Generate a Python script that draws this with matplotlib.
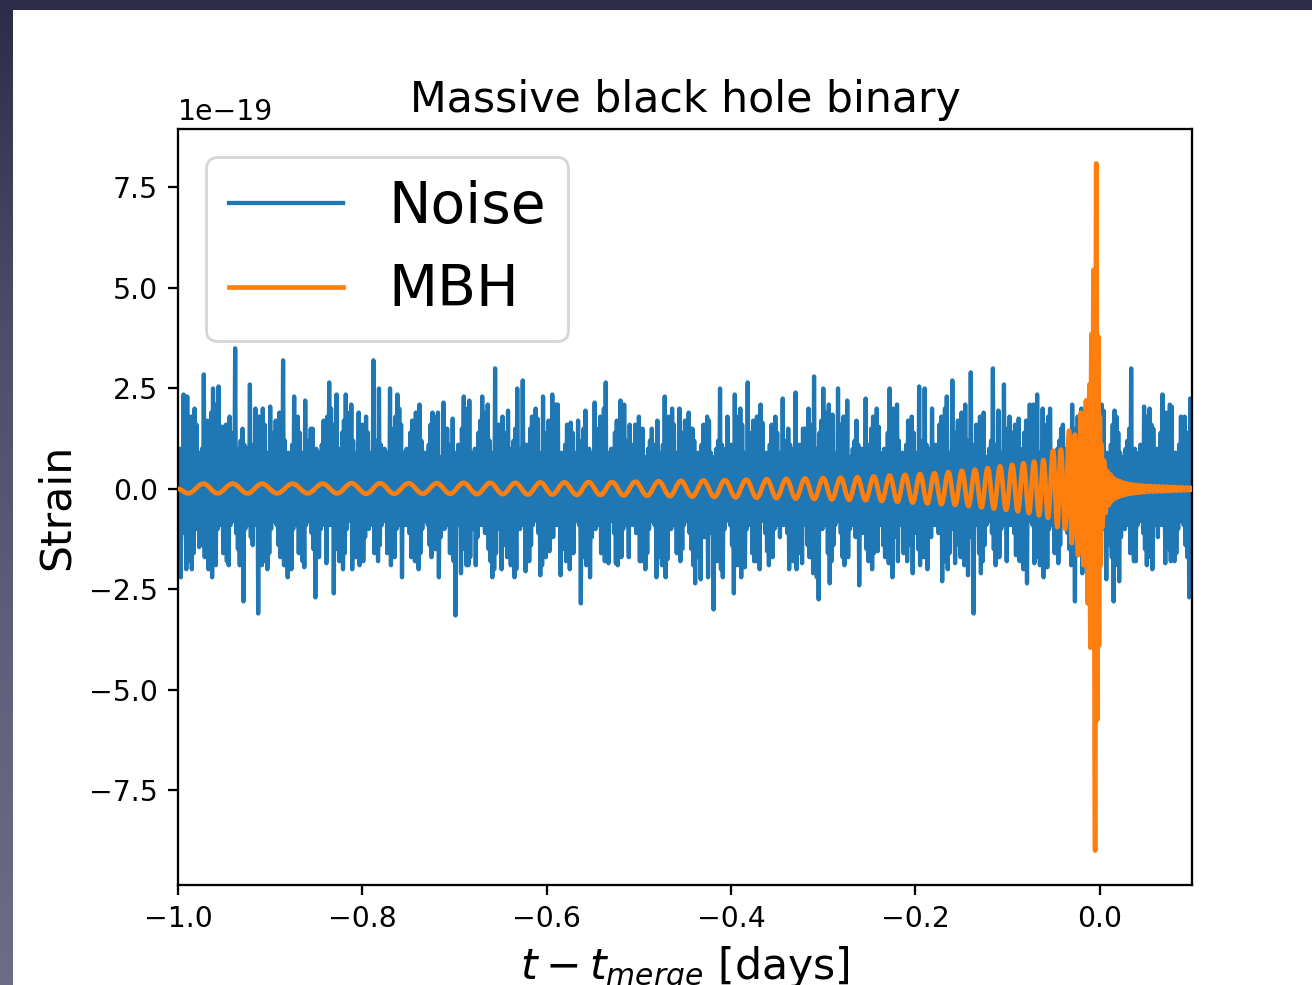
import numpy as np
import matplotlib
matplotlib.use("Agg")
import matplotlib.pyplot as plt
from matplotlib.patches import Rectangle, PathPatch
from matplotlib.path import Path
from matplotlib.lines import Line2D
from matplotlib.colors import LinearSegmentedColormap

# ---------------------------------------------------------------------------
# Data (strain in units of 1e-19, time in days relative to merger)
# ---------------------------------------------------------------------------
chart_title = "Massive black hole binary"
series_labels = ["Noise", "MBH"]
x_label = r"$t - t_{merge}$ [days]"
y_label = "Strain"
time_range = (-1.0, 0.1)
strain_unit = 1e-19

# instrument noise, uniformly sampled over time_range
noise_strain = [
    0.8, -0.9, 1.0, -2.2, 0.7, -1.1, 2.35, -0.8, 1.1, -2.0,
    2.3, -1.8, 1.5, -1.2, 1.8, -2.0, 1.2, -1.6, 2.0, -1.0,
    1.6, -0.8, 0.9, -1.45, 0.7, -0.9, 1.0, -1.4, 2.85, -1.7,
    1.4, -1.1, 1.7, -2.0, 1.1, -1.5, 1.9, -2.2, 2.5, -1.2,
    2.1, -1.9, 1.2, -1.0, 2.55, -0.7, 0.9, -0.9, 1.55, -1.6,
    1.1, -1.2, 1.6, -1.8, 1.2, -1.9, 1.8, -0.9, 1.4, -0.7,
    0.9, -0.8, 3.5, -1.1, 0.8, -1.5, 1.0, -1.9, 1.2, -1.4,
    1.5, -2.8, 1.1, -1.0, 0.8, -0.7, 1.0, -0.9, 2.6, -1.2,
    0.9, -1.4, 1.1, -0.9, 2.0, -0.7, 1.5, -3.1, 1.8, -0.8,
    1.2, -1.9, 2.0, -1.8, 1.6, -1.2, 0.9, -2.0, 0.7, -1.6,
    2.05, -1.0, 0.8, -0.8, 1.4, -0.6, 1.7, -0.9, 1.1, -1.4,
    1.9, -1.7, 1.5, -1.1, 3.2, -1.9, 1.2, -1.5, 0.8, -2.2,
    0.9, -1.2, 0.6, -2.0, 1.1, -1.0, 2.3, -0.7, 1.2, -0.9,
    1.8, -1.6, 1.4, -1.2, 0.9, -1.8, 0.6, -1.95, 2.2, -0.9,
    1.0, -0.7, 1.2, -0.8, 1.5, -1.1, 1.5, -1.5, 0.8, -2.7,
    1.0, -1.4, 0.7, -1.7, 0.9, -1.0, 1.1, -0.7, 1.7, -0.9,
    1.5, -1.85, 1.8, -0.8, 2.65, -0.9, 2.0, -0.7, 1.6, -2.6,
    0.9, -0.8, 2.35, -1.5, 1.0, -1.8, 0.8, -1.2, 1.4, -2.0,
    1.7, -1.6, 2.35, -1.0, 1.9, -0.8, 1.5, -0.6, 2.1, -2.0,
    1.2, -1.4, 0.8, -1.7, 0.9, -1.1, 1.9, -1.9, 1.1, -1.5,
    1.6, -1.8, 1.2, -1.2, 1.8, -0.8, 1.4, -1.0, 0.9, -0.7,
    0.6, -0.9, 3.2, -1.6, 1.0, -1.2, 1.2, -1.8, 2.5, -1.4,
    1.1, -0.9, 0.8, -0.7, 1.0, -0.8, 0.7, -1.6, 0.9, -1.5,
    2.5, -1.9, 0.8, -1.4, 1.5, -1.7, 1.8, -1.0, 2.35, -0.7,
    2.0, -0.9, 1.6, -2.2, 0.9, -0.8, 0.7, -0.9, 1.0, -0.7,
    0.8, -1.1, 1.4, -1.7, 1.7, -1.5, 1.1, -1.8, 1.9, -1.2,
    1.55, -2.0, 2.1, -1.6, 1.2, -1.0, 0.8, -0.8, 0.9, -0.6,
    0.6, -0.9, 1.1, -1.4, 1.6, -1.7, 1.9, -1.1, 1.8, -1.5,
    1.4, -1.5, 1.9, -2.2, 0.6, -1.2, 0.8, -0.8, 2.15, -1.0,
    1.2, -0.7, 1.5, -0.9, 1.1, -1.6, 0.8, -1.2, 1.75, -1.8,
    0.7, -3.15, 0.9, -0.9, 1.1, -0.7, 0.8, -2.1, 1.5, -1.1,
    2.3, -1.5, 1.2, -1.9, 2.0, -1.9, 2.2, -1.7, 0.9, -1.0,
    0.7, -0.7, 1.0, -1.9, 0.8, -1.2, 1.4, -0.8, 1.7, -0.9,
    2.3, -0.7, 1.9, -1.1, 1.5, -0.8, 2.1, -1.5, 1.2, -1.8,
    0.8, -2.2, 0.9, -2.0, 3.0, -1.6, 1.1, -1.0, 1.6, -0.8,
    1.2, -2.0, 1.8, -0.9, 1.4, -1.4, 0.9, -1.7, 1.95, -1.1,
    0.8, -1.9, 1.0, -1.5, 1.2, -2.2, 1.5, -2.0, 2.5, -0.8,
    0.8, -1.0, 1.0, -0.7, 2.7, -0.9, 0.9, -2.05, 1.1, -1.2,
    0.8, -1.8, 1.5, -1.4, 1.8, -0.9, 1.2, -0.7, 2.0, -0.8,
    1.75, -1.1, 0.9, -2.15, 0.7, -1.9, 2.3, -1.4, 0.8, -1.7,
    1.4, -1.0, 1.7, -1.55, 1.1, -0.9, 2.35, -1.2, 1.5, -0.8,
    2.1, -0.9, 2.1, -0.7, 0.8, -2.15, 0.9, -0.8, 0.6, -1.5,
    1.1, -1.8, 1.6, -1.2, 1.2, -2.0, 1.65, -1.6, 1.4, -1.6,
    0.9, -0.8, 0.6, -0.6, 1.7, -0.9, 1.0, -2.85, 1.2, -1.7,
    1.5, -1.1, 1.95, -1.9, 0.8, -1.55, 1.0, -2.2, 0.7, -1.2,
    0.9, -0.8, 2.15, -1.0, 0.8, -0.7, 1.5, -0.9, 1.8, -1.6,
    1.2, -1.2, 2.0, -1.8, 2.65, -1.4, 0.9, -1.85, 0.7, -0.7,
    1.0, -0.8, 0.8, -1.1, 1.4, -1.85, 1.7, -1.9, 1.1, -1.4,
    2.2, -1.7, 1.5, -1.0, 2.1, -0.7, 1.2, -0.9, 0.8, -1.7,
    1.6, -0.8, 0.6, -0.9, 1.1, -0.7, 1.6, -1.1, 1.2, -0.8,
    1.8, -1.8, 1.4, -1.8, 1.5, -1.2, 0.6, -2.0, 0.8, -1.6,
    1.0, -1.0, 1.2, -0.8, 1.5, -0.6, 1.1, -0.9, 0.8, -2.2,
    1.7, -1.7, 0.7, -1.1, 0.9, -1.9, 1.1, -1.5, 2.3, -2.2,
    1.5, -1.75, 1.8, -0.8, 1.2, -1.0, 2.0, -0.7, 1.6, -0.9,
    0.9, -1.6, 0.7, -1.2, 2.0, -1.8, 0.8, -1.5, 1.4, -0.9,
    1.7, -0.7, 1.1, -0.8, 1.9, -1.1, 1.5, -1.5, 1.5, -1.9,
    1.2, -2.35, 0.8, -1.7, 0.9, -1.0, 0.6, -2.25, 1.1, -0.9,
    1.6, -1.2, 1.2, -0.8, 1.8, -2.2, 1.7, -0.7, 0.9, -1.1,
    0.6, -3.0, 0.8, -1.5, 1.0, -1.8, 1.2, -1.2, 2.5, -2.0,
    1.1, -2.2, 0.8, -1.0, 1.0, -0.8, 1.8, -0.6, 0.9, -0.9,
    1.1, -1.4, 0.8, -2.6, 2.35, -1.1, 1.8, -1.9, 1.2, -1.5,
    2.0, -2.2, 1.6, -1.2, 0.9, -1.95, 0.7, -1.0, 2.65, -0.7,
    0.8, -0.9, 1.4, -1.6, 1.7, -1.8, 1.1, -1.8, 1.8, -1.4,
    1.5, -2.0, 2.1, -0.7, 1.65, -0.8, 0.8, -1.1, 0.9, -1.55,
    0.6, -1.9, 1.1, -1.4, 1.6, -1.7, 1.2, -1.0, 1.8, -0.7,
    1.4, -0.9, 0.9, -1.2, 0.6, -0.8, 2.25, -0.9, 1.0, -0.7,
    1.2, -1.1, 1.5, -2.0, 1.1, -1.5, 0.8, -1.8, 1.0, -1.2,
    2.4, -2.0, 0.9, -1.6, 1.1, -1.0, 0.8, -1.85, 1.5, -0.6,
    1.5, -0.9, 1.2, -1.4, 2.0, -1.7, 1.6, -1.1, 0.9, -2.1,
    2.8, -1.5, 1.0, -2.2, 0.8, -2.75, 1.4, -0.8, 1.7, -1.0,
    2.5, -0.7, 1.9, -0.9, 1.5, -1.6, 2.1, -2.35, 1.2, -1.8,
    1.85, -1.4, 0.9, -0.9, 0.6, -0.7, 2.5, -0.8, 1.6, -1.1,
    1.2, -1.7, 1.8, -1.9, 1.4, -1.4, 2.2, -1.7, 0.6, -1.0,
    0.8, -0.7, 1.0, -0.9, 1.2, -1.2, 1.7, -0.8, 1.1, -2.4,
    0.8, -0.7, 1.0, -1.1, 0.7, -0.8, 2.25, -1.5, 1.1, -1.8,
    0.8, -1.2, 1.5, -2.0, 1.8, -1.6, 1.2, -1.0, 2.0, -1.55,
    1.55, -0.6, 0.9, -0.9, 0.7, -1.4, 1.0, -1.7, 0.8, -1.1,
    1.4, -1.85, 2.5, -1.5, 1.1, -2.2, 2.0, -1.2, 1.5, -0.8,
    2.1, -1.8, 1.2, -0.7, 0.8, -0.9, 0.9, -1.6, 0.6, -1.2,
    1.1, -1.8, 1.7, -1.4, 1.2, -0.9, 1.8, -2.1, 1.4, -0.8,
    0.9, -1.1, 0.6, -1.5, 2.55, -1.9, 1.0, -1.4, 1.2, -1.7,
    2.5, -1.0, 1.1, -2.0, 0.8, -0.9, 1.0, -1.2, 2.0, -0.8,
    0.9, -0.9, 1.1, -0.7, 0.8, -1.1, 1.6, -0.8, 1.8, -2.3,
    1.2, -1.8, 2.0, -1.2, 2.3, -2.0, 0.9, -1.6, 0.7, -1.0,
    2.7, -0.8, 0.8, -1.85, 1.4, -0.9, 1.7, -1.4, 1.1, -1.7,
    1.9, -1.1, 1.85, -1.9, 2.1, -1.5, 1.2, -2.15, 0.8, -1.2,
    2.9, -0.8, 0.6, -3.1, 1.1, -0.7, 1.6, -0.9, 1.2, -1.6,
    1.8, -2.1, 1.4, -1.8, 1.9, -1.4, 0.6, -0.9, 0.8, -0.7,
    1.0, -0.8, 1.2, -1.1, 3.0, -1.5, 1.1, -1.9, 0.8, -1.7,
    1.95, -1.7, 0.7, -1.0, 0.9, -0.7, 2.6, -0.9, 0.8, -1.8,
    1.5, -0.8, 1.8, -0.9, 1.2, -0.7, 1.4, -1.1, 1.6, -1.65,
    0.9, -1.5, 1.75, -1.8, 1.0, -1.2, 0.8, -2.0, 1.4, -1.6,
    1.7, -2.35, 1.1, -0.8, 2.1, -0.6, 1.5, -0.9, 2.1, -1.85,
    1.2, -1.7, 2.35, -1.1, 0.9, -1.9, 0.6, -1.5, 2.0, -2.2,
    1.6, -1.2, 1.2, -1.95, 1.8, -1.0, 2.0, -0.7, 0.9, -0.9,
    0.6, -1.6, 0.8, -1.2, 1.0, -1.85, 1.2, -1.4, 1.5, -0.9,
    1.6, -0.7, 0.8, -0.8, 1.0, -1.1, 0.7, -1.5, 0.9, -1.9,
    2.1, -1.4, 0.8, -2.8, 1.5, -1.0, 1.8, -0.7, 1.2, -0.9,
    2.0, -2.1, 1.6, -0.8, 1.5, -0.9, 0.7, -0.7, 1.0, -1.1,
    0.8, -0.8, 1.4, -1.5, 1.7, -1.8, 1.1, -1.2, 1.9, -2.0,
    1.5, -1.6, 2.1, -1.0, 1.95, -0.8, 0.8, -2.25, 0.9, -0.9,
    0.6, -1.4, 1.1, -1.7, 1.6, -2.8, 1.95, -1.9, 1.8, -1.5,
    1.4, -2.3, 0.9, -1.2, 0.6, -0.8, 0.8, -1.0, 1.0, -0.7,
    1.2, -0.9, 1.5, -1.6, 3.0, -1.2, 0.8, -1.8, 1.0, -1.8,
    0.7, -0.9, 0.9, -0.7, 1.1, -0.8, 0.8, -1.1, 2.05, -1.5,
    1.8, -1.9, 1.2, -1.4, 2.0, -1.7, 1.6, -2.0, 1.5, -0.7,
    0.7, -0.9, 1.0, -1.2, 0.8, -0.8, 1.4, -0.9, 2.35, -0.7,
    1.1, -1.85, 1.9, -0.8, 1.5, -1.5, 2.1, -1.8, 2.05, -1.2,
    0.8, -1.8, 0.9, -1.6, 0.6, -1.0, 1.1, -0.8, 1.8, -0.6,
    1.2, -0.9, 1.8, -1.4, 1.4, -1.7, 0.9, -2.7, 2.25, -1.9,
    0.8,
]

# MBH waveform: successive extrema of the inspiral, merger and post-merger tail
mbh_time = [
    -1.0000, -0.9888, -0.9725, -0.9571, -0.9408, -0.9245, -0.9088, -0.8925, -0.8757, -0.8594,
    -0.8431, -0.8274, -0.8116, -0.7959, -0.7807, -0.7655, -0.7499, -0.7345, -0.7193, -0.7047,
    -0.6902, -0.6757, -0.6612, -0.6477, -0.6341, -0.6205, -0.6069, -0.5939, -0.5809, -0.5673,
    -0.5545, -0.5418, -0.5291, -0.5165, -0.5038, -0.4911, -0.4785, -0.4663, -0.4544, -0.4422,
    -0.4300, -0.4182, -0.4066, -0.3952, -0.3835, -0.3722, -0.3612, -0.3507, -0.3401, -0.3298,
    -0.3197, -0.3098, -0.3001, -0.2906, -0.2812, -0.2720, -0.2630, -0.2541, -0.2452, -0.2365,
    -0.2280, -0.2195, -0.2113, -0.2030, -0.1950, -0.1871, -0.1794, -0.1718, -0.1643, -0.1569,
    -0.1496, -0.1425, -0.1354, -0.1284, -0.1216, -0.1149, -0.1083, -0.1017, -0.0950, -0.0890,
    -0.0828, -0.0768, -0.0713, -0.0659, -0.0611, -0.0562, -0.0507, -0.0461, -0.0423, -0.0375,
    -0.0333, -0.0304, -0.0271, -0.0236, -0.0206, -0.0176, -0.0150, -0.0130, -0.0113, -0.0102,
    -0.0091, -0.0078, -0.0069, -0.0051, -0.0039, -0.0028, -0.0018, -0.0009, 0.0000, 0.0010,
    0.0020, 0.0029,
    0.0046, 0.0063, 0.0080, 0.0098, 0.0115, 0.0132, 0.0150, 0.0167, 0.0185, 0.0202,
    0.0219, 0.0237, 0.0254, 0.0271, 0.0289, 0.0306, 0.0324, 0.0341, 0.0358, 0.0376,
    0.0393, 0.0410, 0.0428, 0.0445, 0.0463, 0.0484, 0.0506, 0.0528, 0.0549, 0.0571,
    0.0593, 0.0615, 0.0636, 0.0658, 0.0680, 0.0701, 0.0723, 0.0745, 0.0767, 0.0788,
    0.0810, 0.0832, 0.0853, 0.0875, 0.0897, 0.0919, 0.0940, 0.0962, 0.0984, 0.1005, 0.1027,
]
mbh_strain = [
    0.0, -0.11, 0.13, -0.11, 0.13, -0.11, 0.13, -0.11, 0.13, -0.11,
    0.13, -0.11, 0.14, -0.12, 0.14, -0.12, 0.14, -0.12, 0.14, -0.12,
    0.15, -0.13, 0.15, -0.13, 0.15, -0.14, 0.16, -0.14, 0.16, -0.15,
    0.17, -0.15, 0.17, -0.16, 0.18, -0.17, 0.19, -0.18, 0.2, -0.19,
    0.21, -0.2, 0.22, -0.21, 0.23, -0.22, 0.24, -0.23, 0.25, -0.24,
    0.26, -0.25, 0.27, -0.26, 0.28, -0.27, 0.29, -0.28, 0.31, -0.3,
    0.33, -0.32, 0.35, -0.34, 0.37, -0.36, 0.39, -0.38, 0.42, -0.4,
    0.45, -0.43, 0.48, -0.46, 0.52, -0.49, 0.56, -0.52, 0.6, -0.56,
    0.64, -0.6, 0.68, -0.66, 0.72, -0.72, 0.95, -0.95, 0.98, -1.0,
    1.45, -1.35, 1.35, -1.65, 1.9, -1.9, 2.2, -2.85, 2.6, -3.95,
    3.85, -3.3, 5.45, -9.0, 8.1, -5.75, 3.8, -3.9, 1.8, -1.9,
    1.1, -0.95,
    0.7, -0.6, 0.45, -0.4, 0.36, -0.3, 0.27, -0.24, 0.22, -0.2,
    0.19, -0.17, 0.16, -0.15, 0.14, -0.13, 0.125, -0.12, 0.11, -0.105,
    0.1, -0.095, 0.09, -0.088, 0.085, -0.082, 0.079, -0.076, 0.073, -0.07,
    0.068, -0.066, 0.064, -0.062, 0.06, -0.058, 0.056, -0.054, 0.052, -0.05,
    0.048, -0.046, 0.044, -0.042, 0.04, -0.038, 0.036, -0.034, 0.032, -0.03, 0.028,
]


def wave_through_extrema(t, h, scale):
    """Smooth wave path passing through successive extrema with flat tangents."""
    t = np.asarray(t, dtype=float)
    h = np.asarray(h, dtype=float) * scale
    verts = [(t[0], h[0])]
    codes = [Path.MOVETO]
    for k in range(1, len(t)):
        dt = t[k] - t[k - 1]
        verts += [(t[k - 1] + 0.364 * dt, h[k - 1]),
                  (t[k] - 0.364 * dt, h[k]),
                  (t[k], h[k])]
        codes += [Path.CURVE4] * 3
    return Path(verts, codes)


# ---------------------------------------------------------------------------
# Figure: slide backdrop with the plot panel on top
# ---------------------------------------------------------------------------
W, H = 1312, 985
DPI = 204.375
fig = plt.figure(figsize=(W / DPI, H / DPI), dpi=DPI)

backdrop = fig.add_axes([0, 0, 1, 1], zorder=-10)
shade = np.linspace(0, 1, 256).reshape(-1, 1)
slide_cmap = LinearSegmentedColormap.from_list(
    "slide", ["#2c2c4a", "#4c4c6c", "#60607c", "#6c6c84"])
backdrop.imshow(shade, aspect="auto", cmap=slide_cmap,
                extent=[0, 1, 0, 1], origin="upper")
backdrop.set_axis_off()

fig.add_artist(Rectangle((13 / W, 0), 1, (H - 10) / H,
                         transform=fig.transFigure, facecolor="white",
                         edgecolor="none", zorder=-5))

ax = fig.add_axes([178 / W, (H - 885) / H, 1014 / W, 756 / H])

noise_time = np.linspace(time_range[0], time_range[1], len(noise_strain))
noise_line, = ax.plot(noise_time, np.asarray(noise_strain) * strain_unit,
                      color="C0", lw=1.5, zorder=2)

mbh_lw = 1.65
ax.add_patch(PathPatch(wave_through_extrema(mbh_time, mbh_strain, strain_unit),
                       facecolor="none", edgecolor="C1", lw=mbh_lw,
                       joinstyle="round", capstyle="round", zorder=3))
mbh_handle = Line2D([], [], color="C1", lw=mbh_lw)

ax.set_xlim(time_range)
ax.autoscale_view(scalex=False)
ax.set_title(chart_title, fontsize=15)
ax.set_xlabel(x_label, fontsize=15)
ax.set_ylabel(y_label, fontsize=15)
ax.legend([noise_line, mbh_handle], series_labels,
          loc="upper left", fontsize=20)

fig.savefig("out.png", dpi=DPI)
